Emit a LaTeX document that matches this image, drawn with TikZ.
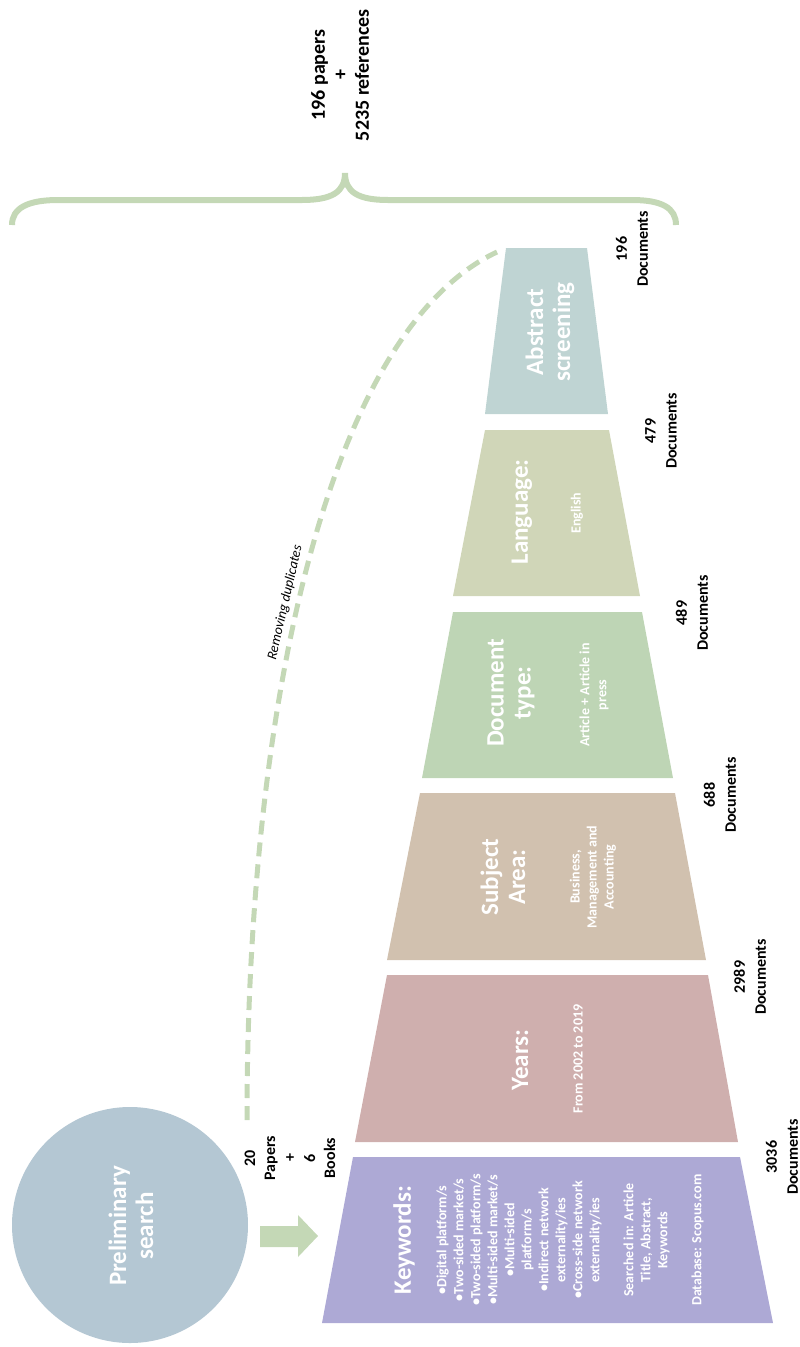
\documentclass[tikz,border=0pt]{standalone}
\usepackage{fontspec}
\setmainfont{Carlito}
\definecolor{kwcol}{RGB}{173,169,213}
\definecolor{yrcol}{RGB}{207,175,174}
\definecolor{sacol}{RGB}{209,193,175}
\definecolor{dtcol}{RGB}{190,213,181}
\definecolor{lgcol}{RGB}{208,214,184}
\definecolor{abcol}{RGB}{191,212,211}
\definecolor{circcol}{RGB}{180,199,211}
\definecolor{grn}{RGB}{196,216,182}
\begin{document}
\begin{tikzpicture}[x=1pt,y=-1pt,
  title/.style={text=white,font=\fontsize{25}{27}\selectfont\bfseries,rotate=90,align=center,inner sep=0pt},
  sub/.style={text=white,font=\fontsize{14}{17}\selectfont\bfseries,rotate=90,align=center,inner sep=0pt},
  count/.style={font=\fontsize{16}{21}\selectfont\bfseries,rotate=90,align=center,inner sep=0pt},
  greenline/.style={draw=grn,line width=6pt}]
\useasboundingbox (0,0) rectangle (800,1347);

% funnel stages
\fill[kwcol] (353,1157) -- (740,1157) -- (773,1323) -- (322,1323) -- cycle;
\fill[yrcol] (387,975) -- (708,975) -- (738,1142) -- (355,1142) -- cycle;
\fill[sacol] (420,793) -- (675,793) -- (706,960) -- (387,960) -- cycle;
\fill[dtcol] (453,612) -- (642,612) -- (673,778) -- (422,778) -- cycle;
\fill[lgcol] (485,430) -- (609,430) -- (640,596) -- (453,596) -- cycle;
\fill[abcol] (506,248) -- (587,248) -- (608,414) -- (485,414) -- cycle;

% preliminary search
\node[circle,fill=circcol,minimum size=236pt,inner sep=0pt] (prelim) at (130,1225) {};
\node[title] (prelimtxt) at (131,1226) {Preliminary\\search};

% block arrow
\fill[grn] (260,1226) -- (298,1226) -- (298,1215) -- (318,1236) -- (298,1257) -- (298,1247) -- (260,1247) -- cycle;

% stage texts
\node[title] (kwt) at (404,1240) {Keywords:};
\node[sub] (kws) at (570,1240) {•Digital platform/s\\•Two-sided market/s\\•Two-sided platform/s\\•Multi-sided market/s\\•Multi-sided\\platform/s\\•Indirect network\\externality/ies\\•Cross-side network\\externality/ies\\[17pt]Searched in: Article\\Title, Abstract,\\Keywords\\[17pt]Database: Scopus.com};

\node[title] (yrt) at (520,1060) {Years:};
\node[sub] (yrs) at (578,1059) {From 2002 to 2019};

\node[title] (sat) at (503,877) {Subject\\Area:};
\node[sub] (sas) at (593,877) {Business,\\Management and\\Accounting};

\node[title] (dtt) at (511,693) {Document\\type:};
\node[sub] (dts) at (594,695) {Article + Article in\\press};

\node[title] (lgt) at (522,512) {Language:};
\node[sub] (lgs) at (577,513) {English};

\node[title] (abt) at (550,332) {Abstract\\screening};

% counts
\node[count] (c196) at (632,249) {196\\Documents};
\node[count] (c479) at (661,431) {479\\Documents};
\node[count] (c489) at (692,613) {489\\Documents};
\node[count] (c688) at (720,795) {688\\Documents};
\node[count] (c2989) at (750,977) {2989\\Documents};
\node[count] (c3036) at (782,1157) {3036\\Documents};
\node[count,font=\fontsize{16}{20}\selectfont\bfseries] (c20) at (290,1158) {20\\Papers\\+\\6\\Books};

% removing duplicates
\coordinate (dupS) at (247,1120);
\coordinate (dupE) at (497,252);
\draw[draw=grn,line width=5pt,dash pattern=on 14pt off 8pt]
  (dupS) .. controls (247,700) and (330,330) .. (dupE)
  node[pos=0.45,sloped,above=3pt,font=\fontsize{14}{16}\selectfont\itshape,inner sep=1pt] (duptxt) {Removing duplicates};

% brace
\coordinate (brL) at (12,225);
\coordinate (brR) at (676,225);
\coordinate (brP) at (345,173);
\draw[greenline] (brL) .. controls (12,208) and (28,200) .. (58,200) -- (302,200)
  .. controls (332,200) and (345,192) .. (brP)
  .. controls (345,192) and (358,200) .. (388,200) -- (632,200)
  .. controls (662,200) and (676,208) .. (brR);

\node[count,font=\fontsize{20}{22}\selectfont\bfseries] (total) at (340,75) {196 papers\\+\\5235 references};
\end{tikzpicture}
\end{document}
